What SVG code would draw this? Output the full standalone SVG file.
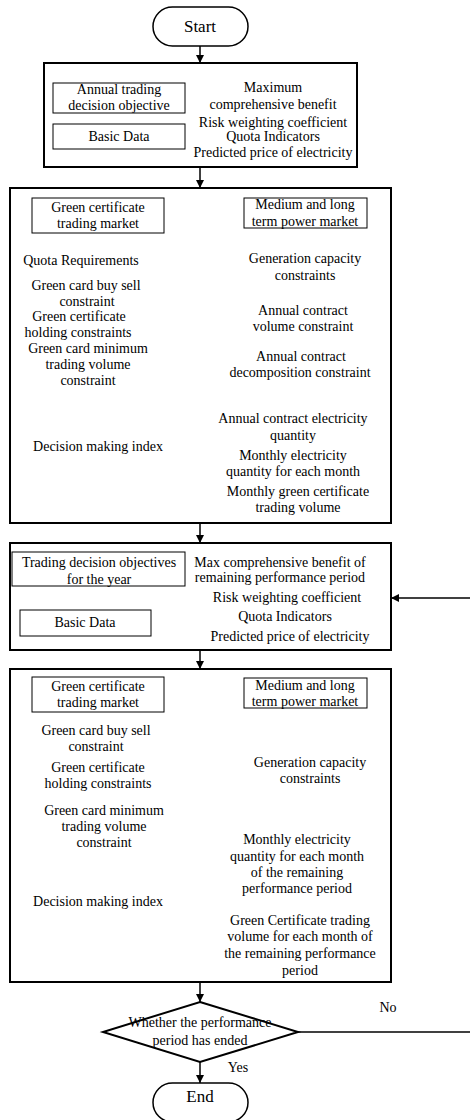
<svg xmlns="http://www.w3.org/2000/svg" width="470" height="1120" viewBox="0 0 470 1120">
<style>
text{font-family:"Liberation Serif","Times New Roman",serif;font-size:14px;fill:#000;text-anchor:middle}
.big{font-size:17px}
.outer{fill:#fff;stroke:#000;stroke-width:2}
.inner{fill:#fff;stroke:#000;stroke-width:1}
.term{fill:#fff;stroke:#000;stroke-width:1.5}
.conn{fill:none;stroke:#000;stroke-width:1.5}
</style>
<defs>
<marker id="ah" viewBox="0 0 10 10" refX="10" refY="5" markerWidth="8" markerHeight="8" markerUnits="userSpaceOnUse" orient="auto">
<path d="M0,0 L10,5 L0,10 z" fill="#000"/>
</marker>
</defs>
<g id="connectors">
<line class="conn" x1="200" y1="46" x2="200" y2="63" marker-end="url(#ah)"/>
<line class="conn" x1="200" y1="167" x2="200" y2="188" marker-end="url(#ah)"/>
<line class="conn" x1="200" y1="523" x2="200" y2="543" marker-end="url(#ah)"/>
<line class="conn" x1="200" y1="650" x2="200" y2="669" marker-end="url(#ah)"/>
<line class="conn" x1="200" y1="982" x2="200" y2="1002" marker-end="url(#ah)"/>
<line class="conn" x1="200" y1="1062" x2="200" y2="1083" marker-end="url(#ah)"/>
<line class="conn" x1="298" y1="1032" x2="472" y2="1032"/>
<line class="conn" x1="472" y1="598" x2="391" y2="598" marker-end="url(#ah)"/>
<text x="388" y="1012">No</text>
<text x="238" y="1072">Yes</text>
</g>
<g id="start">
<rect class="term" x="153" y="7" width="95" height="39" rx="19.5"/>
<text class="big" x="200" y="32">Start</text>
</g>
<g id="box1">
<rect class="outer" x="44" y="63" width="313" height="104"/>
<rect class="inner" x="53" y="83" width="132" height="30"/>
<text x="119" y="94">Annual trading</text>
<text x="119" y="110">decision objective</text>
<rect class="inner" x="53" y="124" width="132" height="25"/>
<text x="119" y="141">Basic Data</text>
<text x="273" y="92">Maximum</text>
<text x="273" y="109">comprehensive benefit</text>
<text x="273" y="127">Risk weighting coefficient</text>
<text x="273" y="141">Quota Indicators</text>
<text x="273" y="157">Predicted price of electricity</text>
</g>
<g id="box2">
<rect class="outer" x="10" y="188" width="381" height="335"/>
<rect class="inner" x="32" y="198" width="132" height="35"/>
<text x="98" y="212">Green certificate</text>
<text x="98" y="228">trading market</text>
<rect class="inner" x="244" y="198" width="123" height="30"/>
<text x="305" y="209">Medium and long</text>
<text x="305" y="226">term power market</text>
<text x="81" y="265">Quota Requirements</text>
<text x="86" y="290">Green card buy sell</text>
<text x="87" y="306">constraint</text>
<text x="79" y="321">Green certificate</text>
<text x="78" y="337">holding constraints</text>
<text x="88" y="353">Green card minimum</text>
<text x="88" y="369">trading volume</text>
<text x="88" y="385">constraint</text>
<text x="98" y="451">Decision making index</text>
<text x="305" y="263">Generation capacity</text>
<text x="305" y="280">constraints</text>
<text x="303" y="315">Annual contract</text>
<text x="303" y="331">volume constraint</text>
<text x="301" y="361">Annual contract</text>
<text x="300" y="377">decomposition constraint</text>
<text x="293" y="423">Annual contract electricity</text>
<text x="293" y="440">quantity</text>
<text x="293" y="460">Monthly electricity</text>
<text x="293" y="476">quantity for each month</text>
<text x="298" y="496">Monthly green certificate</text>
<text x="298" y="512">trading volume</text>
</g>
<g id="box3">
<rect class="outer" x="10" y="543" width="381" height="107"/>
<rect class="inner" x="12" y="552" width="173" height="34"/>
<text x="99" y="567">Trading decision objectives</text>
<text x="99" y="584">for the year</text>
<rect class="inner" x="20" y="610" width="131" height="26"/>
<text x="85" y="627">Basic Data</text>
<text x="280" y="567">Max comprehensive benefit of</text>
<text x="280" y="582">remaining performance period</text>
<text x="287" y="602">Risk weighting coefficient</text>
<text x="285" y="621">Quota Indicators</text>
<text x="290" y="641">Predicted price of electricity</text>
</g>
<g id="box4">
<rect class="outer" x="10" y="669" width="381" height="313"/>
<rect class="inner" x="32" y="677" width="132" height="35"/>
<text x="98" y="691">Green certificate</text>
<text x="98" y="707">trading market</text>
<rect class="inner" x="244" y="678" width="123" height="30"/>
<text x="305" y="690">Medium and long</text>
<text x="305" y="706">term power market</text>
<text x="96" y="735">Green card buy sell</text>
<text x="96" y="751">constraint</text>
<text x="98" y="772">Green certificate</text>
<text x="98" y="788">holding constraints</text>
<text x="104" y="815">Green card minimum</text>
<text x="104" y="831">trading volume</text>
<text x="104" y="847">constraint</text>
<text x="98" y="906">Decision making index</text>
<text x="310" y="767">Generation capacity</text>
<text x="310" y="783">constraints</text>
<text x="297" y="844">Monthly electricity</text>
<text x="297" y="861">quantity for each month</text>
<text x="297" y="877">of the remaining</text>
<text x="297" y="893">performance period</text>
<text x="300" y="925">Green Certificate trading</text>
<text x="300" y="941">volume for each month of</text>
<text x="300" y="958">the remaining performance</text>
<text x="300" y="975">period</text>
</g>
<g id="decision">
<polygon class="outer" points="200,1002 298,1032 200,1062 103,1032"/>
<text x="200" y="1027">Whether the performance</text>
<text x="200" y="1045">period has ended</text>
</g>
<g id="end">
<rect class="term" x="153" y="1083" width="95" height="39" rx="19.5"/>
<text class="big" x="200" y="1102">End</text>
</g>
</svg>
